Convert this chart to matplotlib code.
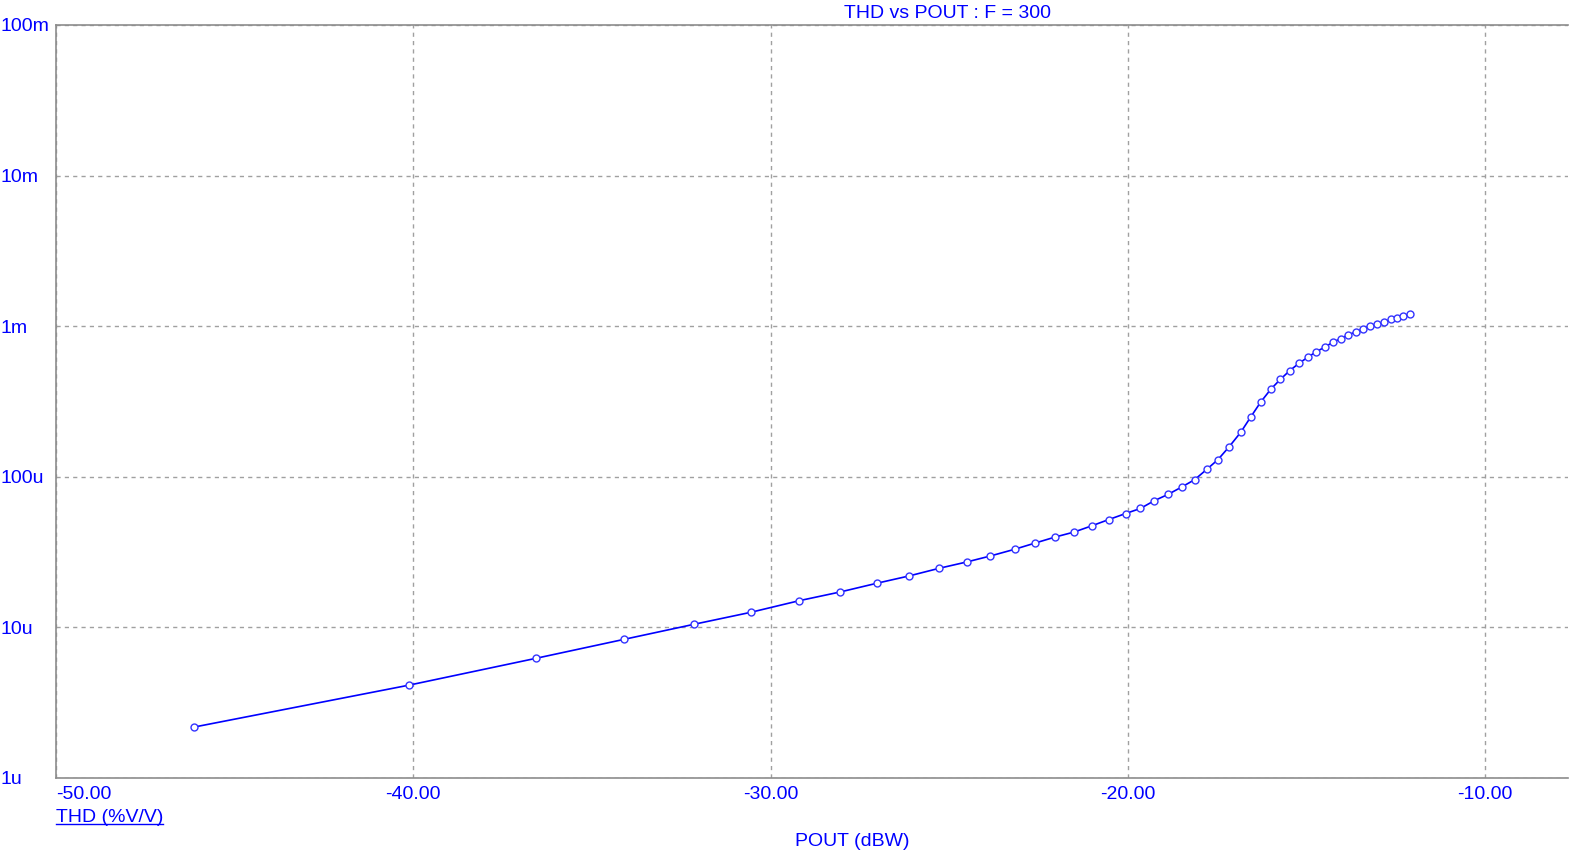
import matplotlib
matplotlib.use('Agg')
import matplotlib.pyplot as plt
from matplotlib.lines import Line2D

plt.rcParams['font.family'] = ['Liberation Sans', 'DejaVu Sans']

# THD (%V/V) against output power (dBW)
pout = [-46.13, -40.11, -36.57, -34.09, -32.14, -30.55, -29.20, -28.05, -27.03, -26.13,
        -25.28, -24.51, -23.85, -23.17, -22.59, -22.03, -21.50, -21.00, -20.53, -20.06,
        -19.65, -19.26, -18.87, -18.49, -18.13, -17.79, -17.48, -17.17, -16.84, -16.56,
        -16.28, -16.00, -15.73, -15.47, -15.20, -14.95, -14.74, -14.48, -14.25, -14.04,
        -13.83, -13.62, -13.41, -13.22, -13.03, -12.82, -12.64, -12.47, -12.29, -12.11]
thd = [2.18e-6, 4.14e-6, 6.23e-6, 8.34e-6, 10.49e-6, 12.60e-6, 15.04e-6, 17.19e-6, 19.63e-6, 21.94e-6,
       24.69e-6, 27.19e-6, 29.79e-6, 33.01e-6, 36.35e-6, 39.84e-6, 43.00e-6, 47.35e-6, 52.05e-6, 57.05e-6,
       61.6e-6, 69.4e-6, 76.5e-6, 85.6e-6, 95.7e-6, 112.1e-6, 129.9e-6, 157.7e-6, 197.5e-6, 249.6e-6,
       313.8e-6, 381.1e-6, 444.1e-6, 506.4e-6, 569.7e-6, 624.3e-6, 674.2e-6, 727.8e-6, 785.7e-6, 826.1e-6,
       878.3e-6, 915.3e-6, 962.5e-6, 1.003e-3, 1.039e-3, 1.066e-3, 1.111e-3, 1.133e-3, 1.169e-3, 1.200e-3]

x_ticks = [-50, -40, -30, -20, -10]
x_labels = ['-50.00', '-40.00', '-30.00', '-20.00', '-10.00']
y_ticks = [1e-6, 1e-5, 1e-4, 1e-3, 1e-2, 1e-1]
y_labels = ['1u', '10u', '100u', '1m', '10m', '100m']

blue = '#0000ff'
W, H = 1571, 861
fig = plt.figure(figsize=(W / 100, H / 100), dpi=100)
ax = fig.add_axes([56 / W, 1 - 778 / H, 1512 / W, 753 / H])

ax.plot(pout, thd, color=blue, lw=1.2, marker='o', ms=5, mfc='white',
        mec='#3333ff', mew=1.0)

ax.set_yscale('log')
ax.set_xlim(-50, -7.68)
ax.set_ylim(1e-6, 1e-1)
ax.minorticks_off()

ax.set_xticks(x_ticks)
ax.set_xticklabels(x_labels)
ax.set_yticks(y_ticks)
ax.set_yticklabels(y_labels)
ax.tick_params(axis='both', length=0, labelcolor=blue, labelsize=14)
ax.tick_params(axis='x', pad=6)
ax.tick_params(axis='y', pad=40)
for lab in ax.get_yticklabels():
    lab.set_horizontalalignment('left')
ax.get_xticklabels()[0].set_horizontalalignment('left')

ax.grid(True, color='#a0a0a0', linestyle=(0, (3, 3)), lw=1.0)
for side in ['left', 'bottom', 'top']:
    ax.spines[side].set_color('#8c8c8c')
    ax.spines[side].set_linewidth(1.2)
ax.spines['right'].set_visible(False)

fig.text(947 / W, 1 - 14 / H, 'THD vs POUT : F = 300', color=blue, fontsize=14,
         ha='center', va='center')
fig.text(852 / W, 1 - 841 / H, 'POUT (dBW)', color=blue, fontsize=14,
         ha='center', va='center')
leg = fig.text(56 / W, 1 - 817 / H, 'THD (%V/V)', color=blue, fontsize=14,
               ha='left', va='center')

# underline the trace label
fig.canvas.draw()
bb = leg.get_window_extent().transformed(fig.transFigure.inverted())
fig.add_artist(Line2D([bb.x0, bb.x1], [bb.y0 + 0.002, bb.y0 + 0.002],
                      transform=fig.transFigure, color=blue, lw=1.0))

fig.savefig('out.png', dpi=100)
